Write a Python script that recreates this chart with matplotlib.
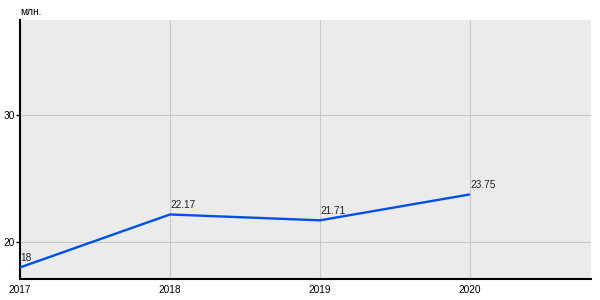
import matplotlib
matplotlib.use('Agg')
import matplotlib.pyplot as plt

years = [2017, 2018, 2019, 2020]
values = [18, 22.17, 21.71, 23.75]
value_labels = ['18', '22.17', '21.71', '23.75']
y_ticks = [20, 30]
unit = 'млн.'

plt.rcParams['font.family'] = ['Liberation Sans', 'DejaVu Sans']

fig = plt.figure(figsize=(6, 3), dpi=100)
ax = fig.add_axes([20 / 600, 21 / 300, 571 / 600, 259 / 300])
ax.set_facecolor('#ebebeb')

ax.plot(years, values, color='#0050e6', linewidth=1.7, solid_capstyle='butt', zorder=3)
for x, y, t in zip(years, values, value_labels):
    ax.annotate(t, (x, y), xytext=(0, 3), textcoords='offset points',
                ha='left', va='bottom', fontsize=7.3, color='#222222')

ax.set_xlim(2017, 2020.807)
ax.set_ylim(17.09, 37.48)
ax.set_xticks(years)
ax.set_xticklabels([str(y) for y in years])
ax.set_yticks(y_ticks)
ax.grid(True, color='#c8c8c8', linewidth=0.8)
ax.set_axisbelow(True)

for s in ['top', 'right']:
    ax.spines[s].set_visible(False)
for s in ['left', 'bottom']:
    ax.spines[s].set_color('black')
    ax.spines[s].set_linewidth(1.5)

ax.tick_params(axis='x', length=0, pad=4, labelsize=7.3)
ax.tick_params(axis='y', length=3, width=1, pad=1, labelsize=7.3)

fig.text(20 / 600, 1 - 12 / 300, unit, fontsize=7.3, ha='left', va='center')

fig.savefig('out.png', dpi=100)
